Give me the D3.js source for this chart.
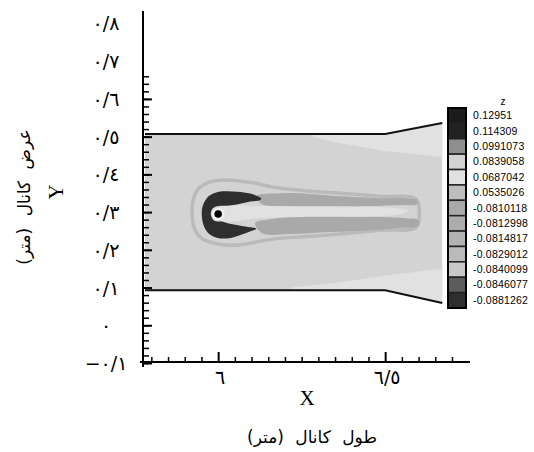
<!DOCTYPE html>
<html><head><meta charset="utf-8">
<script src="https://cdn.jsdelivr.net/npm/d3@7"></script>
<style>body{margin:0;background:#fff}</style>
</head><body><svg id="c" width="534" height="452"></svg>
<script>
// ---------- data ----------
const yTickValues = [0.8, 0.7, 0.6, 0.5, 0.4, 0.3, 0.2, 0.1, 0, -0.1];
const yTickLabels = ["٠/٨", "٠/٧", "٠/٦", "٠/٥", "٠/٤", "٠/٣", "٠/٢", "٠/١", "٠", "−٠/١"];
const xTickValues = [6, 6.5];
const xTickLabels = ["٦", "٦/٥"];
const xMinorTicks = [5.8, 5.85, 5.9, 5.95, 6.05, 6.1, 6.15, 6.2, 6.25, 6.3, 6.35, 6.4, 6.45, 6.55, 6.6, 6.65, 6.7];
const zLabels = ["0.12951", "0.114309", "0.0991073", "0.0839058", "0.0687042", "0.0535026",
  "-0.0810118", "-0.0812998", "-0.0814817", "-0.0829012", "-0.0840099", "-0.0846077", "-0.0881262"];

// channel walls (x, y in metres)
const wallTop = [[5.781, 0.507], [6.5, 0.507], [6.671, 0.536]];
const wallBottom = [[5.781, 0.093], [6.5, 0.093], [6.671, 0.059]];

// contour regions (x, y in metres)
const channelRegion = [[5.781, 0.507], [6.5, 0.507], [6.671, 0.536], [6.671, 0.059], [6.5, 0.093], [5.781, 0.093]];
const topBand = [[6.284, 0.507], [6.5, 0.507], [6.671, 0.536], [6.671, 0.446], [6.5, 0.462], [6.35, 0.485], [6.284, 0.499]];
const bottomBand = [[6.22, 0.093], [6.5, 0.093], [6.671, 0.059], [6.671, 0.15], [6.5, 0.132], [6.35, 0.112], [6.22, 0.1]];
const halo = [[6.602, 0.300], [6.593, 0.334], [6.485, 0.342], [6.365, 0.350], [6.246, 0.358], [6.165, 0.366],
  [6.111, 0.377], [6.066, 0.382], [6.021, 0.385], [5.976, 0.380], [5.940, 0.361], [5.925, 0.332], [5.922, 0.295],
  [5.928, 0.258], [5.949, 0.231], [5.985, 0.218], [6.030, 0.212], [6.081, 0.215], [6.126, 0.223], [6.186, 0.231],
  [6.275, 0.236], [6.365, 0.242], [6.485, 0.252], [6.593, 0.260]];
const upperStreak = [[6.114, 0.342], [6.186, 0.350], [6.275, 0.348], [6.365, 0.342], [6.485, 0.337], [6.560, 0.337],
  [6.596, 0.332], [6.596, 0.321], [6.545, 0.319], [6.455, 0.316], [6.335, 0.316], [6.216, 0.316], [6.132, 0.321]];
const lowerStreak = [[6.111, 0.271], [6.156, 0.281], [6.246, 0.289], [6.365, 0.287], [6.485, 0.287], [6.560, 0.284],
  [6.599, 0.279], [6.599, 0.263], [6.545, 0.258], [6.455, 0.252], [6.335, 0.247], [6.216, 0.242], [6.132, 0.244]];
const centreBand = [[6.006, 0.313], [6.126, 0.316], [6.365, 0.313], [6.530, 0.311], [6.569, 0.303], [6.530, 0.292],
  [6.365, 0.289], [6.126, 0.284], [6.006, 0.279]];
const crescent = [[6.129, 0.336], [6.096, 0.349], [6.057, 0.354], [6.015, 0.355], [5.985, 0.349], [5.966, 0.337],
  [5.953, 0.314], [5.951, 0.292], [5.956, 0.266], [5.971, 0.244], [5.996, 0.232], [6.026, 0.230], [6.056, 0.236],
  [6.086, 0.245], [6.114, 0.256], [6.086, 0.261], [6.056, 0.266], [6.031, 0.270], [6.012, 0.275], [5.988, 0.277],
  [5.978, 0.294], [5.984, 0.310], [6.001, 0.316], [6.026, 0.317], [6.056, 0.320], [6.096, 0.328], [6.126, 0.332]];
const cylinder = [6.0, 0.295];

// ---------- styles ----------
const shades = ["#1c1c1c", "#222222", "#8e8e8e", "#d3d3d3", "#e1e1e1", "#bdbdbd", "#a9a9a9",
  "#acacac", "#b3b3b3", "#bababa", "#c8c8c8", "#5c5c5c", "#2e2e2e"];
const colour = d3.scaleOrdinal().domain(d3.range(13)).range(shades);

const svg = d3.select("#c");
const x = d3.scaleLinear().domain([5.778, 6.754]).range([144, 470]);
const y = d3.scaleLinear().domain([-0.1, 0.833]).range([363, 11]);

const smooth = d3.line().x(d => x(d[0])).y(d => y(d[1])).curve(d3.curveCatmullRomClosed.alpha(0.5));
const straight = d3.line().x(d => x(d[0])).y(d => y(d[1])).curve(d3.curveLinearClosed);
const open = d3.line().x(d => x(d[0])).y(d => y(d[1]));

const g = svg.append("g");
const regions = [
  {pts: channelRegion, level: 3, path: straight},
  {pts: topBand, level: 4, path: straight},
  {pts: bottomBand, level: 4, path: straight}
];
g.selectAll("path.r").data(regions).join("path").attr("class", "r")
  .attr("d", d => d.path(d.pts)).attr("fill", d => colour(d.level));

// halo contour around the wake
g.append("path").attr("d", smooth(halo)).attr("fill", colour(3))
  .attr("stroke", colour(9)).attr("stroke-width", 3.5);

const wake = [
  {pts: upperStreak, level: 6},
  {pts: lowerStreak, level: 6},
  {pts: centreBand, level: 4},
  {pts: crescent, level: 12}
];
g.selectAll("path.w").data(wake).join("path").attr("class", "w")
  .attr("d", d => smooth(d.pts)).attr("fill", d => colour(d.level));

g.append("circle").attr("cx", x(cylinder[0])).attr("cy", y(cylinder[1])).attr("r", 6.5).attr("fill", "#f2f2f2");
g.append("circle").attr("cx", x(cylinder[0])).attr("cy", y(cylinder[1])).attr("r", 3.8).attr("fill", "#000");

[wallTop, wallBottom].forEach(w => g.append("path").attr("d", open(w)).attr("fill", "none")
  .attr("stroke", "#111").attr("stroke-width", 2));

// ---------- axes ----------
const yAx = svg.append("g");
const yMinor = d3.range(-0.1, 0.675, 0.02).map(v => +v.toFixed(2));
const yMajor = [-0.1, 0, 0.1, 0.2, 0.3, 0.4, 0.5, 0.6];
yAx.append("g").attr("transform", "translate(143,0)")
  .call(d3.axisRight(y).tickValues(yMinor).tickSize(6).tickFormat(""))
  .call(a => { a.select(".domain").remove(); a.selectAll("line").attr("stroke-width", 1.5); });
yAx.append("g").attr("transform", "translate(143,0)")
  .call(d3.axisRight(y).tickValues(yMajor).tickSize(9).tickFormat(""))
  .call(a => { a.select(".domain").remove(); a.selectAll("line").attr("stroke-width", 2); });
yAx.append("line").attr("x1", 143).attr("x2", 143).attr("y1", 11).attr("y2", 367)
  .attr("stroke", "#000").attr("stroke-width", 2);
yAx.selectAll("text.yl").data(yTickValues).join("text").attr("class", "yl")
  .attr("x", 106).attr("y", d => y(d) + 7).attr("text-anchor", "middle")
  .attr("font-family", "DejaVu Sans").attr("font-size", 19).attr("letter-spacing", 4)
  .attr("direction", "ltr")
  .text((d, i) => yTickLabels[i]);

const xAx = svg.append("g");
xAx.append("g").attr("transform", "translate(0,362)")
  .call(d3.axisTop(x).tickValues(xMinorTicks).tickSize(5).tickFormat(""))
  .call(a => { a.select(".domain").remove(); a.selectAll("line").attr("stroke-width", 1.5); });
xAx.append("g").attr("transform", "translate(0,362)")
  .call(d3.axisTop(x).tickValues(xTickValues).tickSize(10).tickFormat(""))
  .call(a => { a.select(".domain").remove(); a.selectAll("line").attr("stroke-width", 2); });
xAx.append("line").attr("x1", 140).attr("x2", 470).attr("y1", 362).attr("y2", 362)
  .attr("stroke", "#000").attr("stroke-width", 2);
xAx.selectAll("text.xl").data(xTickValues).join("text").attr("class", "xl")
  .attr("x", d => x(d) + 2).attr("y", 384).attr("text-anchor", "middle")
  .attr("font-family", "DejaVu Sans").attr("font-size", 19).attr("letter-spacing", 4)
  .attr("direction", "ltr")
  .text((d, i) => xTickLabels[i]);

// titles
svg.append("text").attr("x", 307).attr("y", 405).attr("text-anchor", "middle")
  .attr("font-family", "Liberation Serif").attr("font-size", 21).text("X");
svg.append("text").attr("x", 312).attr("y", 443).attr("text-anchor", "middle")
  .attr("font-family", "DejaVu Sans").attr("font-size", 17).attr("word-spacing", 6).text("طول كانال (متر)");
svg.append("text").attr("transform", "translate(63,192) rotate(-90)").attr("text-anchor", "middle")
  .attr("font-family", "Liberation Serif").attr("font-size", 21).text("Y");
svg.append("text").attr("transform", "translate(30,197) rotate(-90)").attr("text-anchor", "middle")
  .attr("font-family", "DejaVu Sans").attr("font-size", 17).attr("word-spacing", 6).text("عرض كانال (متر)");

// ---------- colour legend ----------
const leg = svg.append("g");
const ly = d3.scaleBand().domain(d3.range(13)).range([108, 308]);
leg.selectAll("rect.cell").data(d3.range(13)).join("rect").attr("class", "cell")
  .attr("x", 448).attr("y", d => ly(d)).attr("width", 18).attr("height", ly.bandwidth())
  .attr("fill", d => colour(d)).attr("stroke", "#222").attr("stroke-width", 1.5);
leg.append("rect").attr("x", 448).attr("y", 108).attr("width", 18).attr("height", 200)
  .attr("fill", "none").attr("stroke", "#000").attr("stroke-width", 2);
leg.selectAll("text.zl").data(zLabels).join("text").attr("class", "zl")
  .attr("x", 473).attr("y", (d, i) => ly(i) + ly.bandwidth() / 2 + 3.5)
  .attr("font-family", "Liberation Sans").attr("font-size", 10.5).attr("letter-spacing", 0.2)
  .text(d => d);
leg.append("text").attr("x", 503).attr("y", 105).attr("text-anchor", "middle")
  .attr("font-family", "Liberation Sans").attr("font-size", 10).text("z");
</script></body></html>
